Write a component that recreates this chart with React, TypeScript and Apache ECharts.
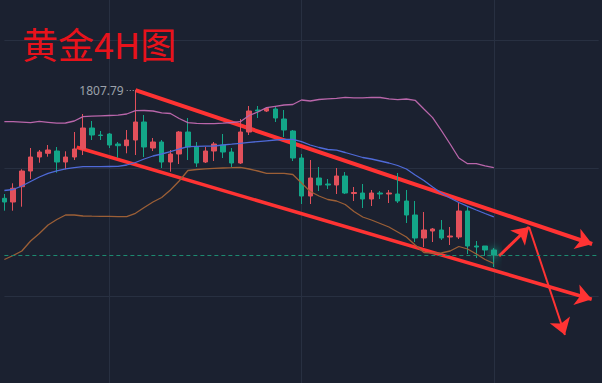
import React, { useEffect, useRef } from "react";
import * as echarts from "echarts";

// [open, close, lowest, highest] for each 4H candle
const ohlc: number[][] = [
  [1796.97, 1796.6, 1795.73, 1797.4],
  [1796.6, 1797.97, 1795.73, 1798.47],
  [1798.13, 1799.7, 1796.13, 1799.87],
  [1799.7, 1801.1, 1798.9, 1802.0],
  [1801.1, 1801.6, 1800.53, 1801.8],
  [1801.47, 1801.8, 1801.13, 1802.3],
  [1801.7, 1800.6, 1799.53, 1802.1],
  [1800.6, 1801.1, 1799.87, 1801.67],
  [1801.1, 1801.9, 1800.8, 1803.6],
  [1801.9, 1804.0, 1801.3, 1805.4],
  [1804.0, 1803.3, 1802.8, 1804.7],
  [1803.3, 1803.25, 1802.8, 1803.7],
  [1803.4, 1802.3, 1802.0, 1803.5],
  [1802.4, 1802.23, 1801.03, 1802.6],
  [1802.23, 1802.8, 1801.47, 1803.8],
  [1802.8, 1804.6, 1801.3, 1807.79],
  [1804.6, 1802.1, 1801.1, 1805.3],
  [1802.0, 1802.6, 1801.7, 1803.0],
  [1802.6, 1800.6, 1800.0, 1802.8],
  [1800.6, 1801.4, 1799.63, 1801.8],
  [1801.4, 1803.6, 1800.4, 1803.7],
  [1803.6, 1802.1, 1800.8, 1805.0],
  [1802.1, 1800.5, 1800.1, 1802.6],
  [1800.6, 1801.7, 1800.5, 1802.1],
  [1801.7, 1802.4, 1800.7, 1802.6],
  [1802.3, 1801.6, 1801.0, 1803.4],
  [1801.6, 1800.5, 1800.1, 1802.0],
  [1800.5, 1803.6, 1800.4, 1804.9],
  [1803.6, 1805.7, 1803.3, 1806.2],
  [1805.8, 1805.7, 1805.0, 1806.2],
  [1805.7, 1805.95, 1805.6, 1806.1],
  [1805.9, 1805.0, 1804.6, 1806.1],
  [1804.9, 1803.8, 1803.1, 1805.8],
  [1803.7, 1801.0, 1800.7, 1803.8],
  [1801.0, 1797.2, 1796.4, 1801.4],
  [1797.2, 1799.0, 1796.4, 1800.8],
  [1799.0, 1798.3, 1797.7, 1800.1],
  [1798.4, 1798.3, 1797.9, 1798.9],
  [1798.3, 1799.2, 1797.4, 1800.0],
  [1799.2, 1797.5, 1797.4, 1799.6],
  [1797.45, 1797.55, 1796.7, 1798.1],
  [1797.5, 1796.9, 1796.0, 1798.4],
  [1796.9, 1797.5, 1796.2, 1797.8],
  [1797.5, 1797.4, 1796.9, 1797.7],
  [1797.4, 1797.5, 1796.5, 1797.8],
  [1797.4, 1796.7, 1796.5, 1799.5],
  [1796.7, 1795.3, 1794.5, 1797.8],
  [1795.3, 1793.0, 1792.6, 1796.7],
  [1793.0, 1793.8, 1792.1, 1795.6],
  [1793.7, 1793.9, 1792.6, 1794.0],
  [1793.8, 1793.0, 1792.8, 1794.8],
  [1793.1, 1793.2, 1792.3, 1794.1],
  [1793.1, 1795.7, 1792.9, 1796.5],
  [1795.7, 1792.2, 1791.4, 1796.1],
  [1792.2, 1792.1, 1791.0, 1792.7],
  [1792.2, 1791.8, 1791.2, 1792.2],
  [1791.8, 1791.3, 1790.1, 1792.0],
];

// Bollinger bands
const upperBand = [
  1804.63, 1804.63, 1804.58, 1804.53, 1804.66, 1804.57, 1804.48, 1804.5, 1804.7, 1805.13,
  1805.19, 1805.22, 1805.25, 1805.28, 1805.4, 1805.73, 1805.75, 1805.7, 1805.52, 1805.45,
  1804.95, 1804.53, 1804.47, 1804.43, 1804.43, 1804.48, 1804.55, 1804.63, 1805.25, 1805.6,
  1806.03, 1806.17, 1806.3, 1806.35, 1806.8, 1806.7, 1806.85, 1806.92, 1806.97, 1807.07,
  1807.02, 1807.02, 1807.07, 1807.05, 1806.92, 1806.83, 1806.9, 1806.77, 1805.9, 1805.04,
  1803.75, 1802.4, 1801.0, 1800.43, 1800.43, 1800.21, 1800.03,
];
const middleBand = [
  1797.75, 1797.85, 1798.2, 1798.65, 1799.1, 1799.47, 1799.72, 1799.92, 1800.04, 1800.13,
  1800.13, 1800.13, 1800.15, 1800.16, 1800.3, 1800.55, 1800.9, 1801.2, 1801.4, 1801.63,
  1801.9, 1802.14, 1802.16, 1802.18, 1802.2, 1802.3, 1802.38, 1802.47, 1802.56, 1802.64,
  1802.72, 1802.8, 1802.87, 1802.87, 1802.63, 1802.3, 1802.05, 1801.85, 1801.78, 1801.55,
  1801.3, 1801.05, 1800.9, 1800.7, 1800.5, 1800.25, 1799.9, 1799.3, 1798.75, 1798.1,
  1797.5, 1797.0, 1796.55, 1796.17, 1795.8, 1795.45, 1795.12,
];
const lowerBand = [
  1790.85, 1791.25, 1791.7, 1792.7, 1793.45, 1794.3, 1794.85, 1795.3, 1795.3, 1795.2,
  1795.18, 1795.17, 1795.16, 1795.14, 1795.13, 1795.47, 1796.05, 1796.6, 1797.05, 1797.8,
  1798.7, 1799.75, 1799.85, 1799.92, 1799.96, 1800.0, 1800.03, 1800.07, 1799.9, 1799.7,
  1799.47, 1799.47, 1799.47, 1799.35, 1798.5, 1797.65, 1797.2, 1796.85, 1796.7, 1796.35,
  1795.65, 1795.1, 1794.8, 1794.45, 1794.1, 1793.6, 1793.1, 1792.3, 1791.55, 1791.48,
  1791.5, 1791.7, 1792.15, 1791.9, 1791.4, 1790.85, 1790.45,
];

const futureSlots = 12;
const categories = [
  ...ohlc.map((_, i) => `K${i + 1}`),
  ...Array.from({ length: futureSlots }, (_, i) => `F${i + 1}`),
];

const titleText = "黄金4H图";

// Hand-drawn annotations in [candle index, price]
const upperTrend = [[15, 1807.79], [67.25, 1792.4]];
const lowerTrend = [[8.28, 1802.07], [67.2, 1786.87]];
const bounceArrow = [[56.6, 1791.2], [60.03, 1794.1]];
const dropArrow = [[60.03, 1794.1], [64.14, 1783.3]];

const RED = "#e2505b";
const GREEN = "#13a688";
const ANNOT = "#ff3333";

export default function App() {
  const ref = useRef<HTMLDivElement>(null);
  useEffect(() => {
    const chart = echarts.init(ref.current!, undefined, { renderer: "svg" });
    const highs = ohlc.map((d) => d[3]);
    const peak = Math.max(...highs);
    const peakIdx = highs.indexOf(peak);
    const lastClose = ohlc[ohlc.length - 1][1];

    const candleData = ohlc.map((d, i) =>
      i === ohlc.length - 1
        ? { value: d, itemStyle: { shadowBlur: 8, shadowColor: "rgba(30,220,170,0.9)" } }
        : d
    );

    chart.setOption({
      animation: false,
      backgroundColor: "#1b2130",
      title: {
        text: titleText,
        left: 17,
        top: 20,
        textStyle: {
          color: "#e8121b",
          fontSize: 36,
          fontWeight: "normal",
          fontFamily: "Noto Sans CJK SC",
        },
      },
      grid: {
        left: 4.37,
        right: 3.31,
        top: -88,
        bottom: -41,
        containLabel: false,
        outerBoundsMode: "none",
      },
      xAxis: [
        {
          type: "category",
          data: categories,
          boundaryGap: false,
          axisLine: { show: false },
          axisTick: { show: false },
          axisLabel: { show: false },
          splitLine: {
            show: true,
            interval: (i: number) => i % 22 === 12,
            lineStyle: { color: "#283041", width: 1 },
          },
        },
        {
          type: "value",
          min: 0,
          max: categories.length - 1,
          show: false,
        },
      ],
      yAxis: [
        {
          type: "value",
          min: 1774.4,
          max: 1825.6,
          show: false,
        },
        {
          type: "value",
          min: 0,
          max: 512,
          interval: 128,
          axisLine: { show: false },
          axisTick: { show: false },
          axisLabel: { show: false },
          splitLine: { show: true, lineStyle: { color: "#283041", width: 1 } },
        },
      ],
      series: [
        {
          type: "line",
          data: upperBand,
          xAxisIndex: 0,
          yAxisIndex: 0,
          showSymbol: false,
          silent: true,
          lineStyle: { color: "#b966aa", width: 1.3 },
        },
        {
          type: "line",
          data: middleBand,
          xAxisIndex: 0,
          yAxisIndex: 0,
          showSymbol: false,
          silent: true,
          lineStyle: { color: "#4f6ad8", width: 1.3 },
        },
        {
          type: "line",
          data: lowerBand,
          xAxisIndex: 0,
          yAxisIndex: 0,
          showSymbol: false,
          silent: true,
          lineStyle: { color: "#9c5f36", width: 1.3 },
        },
        {
          type: "candlestick",
          data: candleData,
          xAxisIndex: 0,
          yAxisIndex: 0,
          barWidth: 5,
          clip: false,
          silent: true,
          itemStyle: {
            color: RED,
            color0: GREEN,
            borderColor: RED,
            borderColor0: GREEN,
            borderWidth: 1,
          },
          markLine: {
            silent: true,
            symbol: ["none", "none"],
            data: [
              {
                yAxis: lastClose,
                label: { show: false },
                lineStyle: { type: [4, 3], color: "#1d8a70", width: 1 },
              },
              [
                {
                  coord: [peakIdx - 1, peak],
                  label: {
                    show: true,
                    position: "start",
                    distance: 3,
                    formatter: () => peak.toFixed(2),
                    color: "#9ca1aa",
                    fontSize: 12,
                    fontFamily: "Noto Sans",
                  },
                  lineStyle: { type: [1, 2], color: "#9ca1aa", width: 1 },
                },
                { coord: [peakIdx, peak] },
              ],
            ],
          },
        },
        {
          type: "lines",
          coordinateSystem: "cartesian2d",
          xAxisIndex: 1,
          yAxisIndex: 0,
          silent: true,
          symbol: ["none", "arrow"],
          symbolSize: 16,
          lineStyle: { color: ANNOT, opacity: 1, curveness: 0 },
          data: [
            { coords: upperTrend, lineStyle: { width: 4, color: ANNOT } },
            { coords: lowerTrend, lineStyle: { width: 3.5, color: ANNOT } },
            { coords: bounceArrow, lineStyle: { width: 3, color: ANNOT } },
            { coords: dropArrow, lineStyle: { width: 2, color: ANNOT } },
          ],
        },
      ],
    });
    return () => chart.dispose();
  }, []);
  return (
    <div
      ref={ref}
      style={{ position: "fixed", left: 0, top: 0, width: 602, height: 383 }}
    />
  );
}
